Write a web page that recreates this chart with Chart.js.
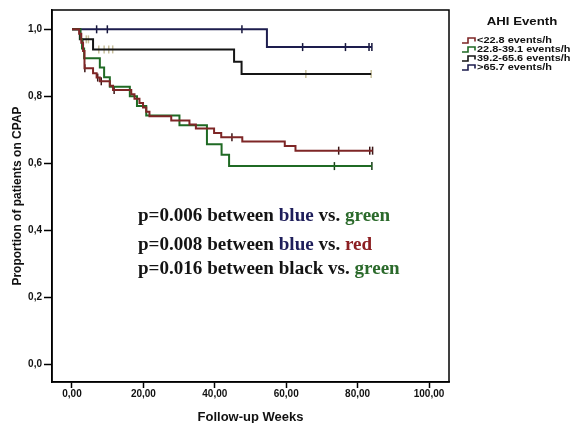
<!DOCTYPE html>
<html><head><meta charset="utf-8">
<script src="https://cdn.jsdelivr.net/npm/chart.js@4/dist/chart.umd.min.js"></script>
<style>html,body{margin:0;padding:0;background:#fff}#wrap{width:580px;height:423px;position:relative}</style>
</head><body><div id="wrap"><canvas id="c" width="580" height="423"></canvas></div>
<script>
const legendTitle = "AHI Eventh";
const groupLabels = ["<22.8 events/h", "22.8-39.1 events/h", "39.2-65.6 events/h", ">65.7 events/h"];

const redWeeks = [0, 2.0, 2.6, 3.1, 3.5, 5.9, 6.9, 7.8, 10.6, 11.5, 16.6, 17.5, 18.9, 19.9, 20.8, 21.7, 27.8, 32.9, 34.7, 39.8, 41.8, 47.7, 59.6, 62.6, 84.2];
const redSurv  = [1, 0.987, 0.96, 0.935, 0.884, 0.869, 0.856, 0.845, 0.832, 0.819, 0.806, 0.793, 0.78, 0.767, 0.754, 0.741, 0.728, 0.716, 0.704, 0.691, 0.678, 0.665, 0.652, 0.638, 0.638];
const redCensor = [3.0, 3.6, 7.2, 8.2, 11.8, 44.8, 74.7, 83.4, 84.2];

const greenWeeks = [0, 2.4, 2.8, 3.4, 7.8, 9.0, 10.6, 16.2, 18.2, 20.8, 30.1, 37.8, 41.9, 44.0, 84.0];
const greenSurv  = [1, 0.971, 0.943, 0.914, 0.886, 0.857, 0.829, 0.8, 0.771, 0.743, 0.714, 0.657, 0.626, 0.592, 0.592];
const greenCensor = [73.5, 84.0];

const blackWeeks = [0, 2.2, 5.9, 45.4, 47.5, 83.8];
const blackSurv  = [1, 0.97, 0.94, 0.903, 0.867, 0.867];
const blackCensor = [4.0, 4.6, 7.5, 9.0, 10.3, 11.4, 65.5, 83.8];

const blueWeeks = [0, 54.6, 84.0];
const blueSurv  = [1, 0.947, 0.947];
const blueCensor = [6.9, 9.9, 47.6, 64.6, 76.6, 83.2, 84.0];

const xTicks = [0, 20, 40, 60, 80, 100];
const yTicks = [0, 0.2, 0.4, 0.6, 0.8, 1.0];
const xTitle = "Follow-up Weeks";
const yTitle = "Proportion of patients on CPAP";

const noteLines = [
  [["p=0.006 between ", "k"], ["blue", "b"], [" vs. ", "k"], ["green", "g"]],
  [["p=0.008 between ", "k"], ["blue", "b"], [" vs. ", "k"], ["red", "r"]],
  [["p=0.016 between ", "k"], ["black", "k"], [" vs. ", "k"], ["green", "g"]]
];
const noteColors = {k: "#141414", b: "#1e1e5a", g: "#2b6a2b", r: "#8c1f22"};

const groups = [
  {label: groupLabels[0], weeks: redWeeks, surv: redSurv, censor: redCensor, color: "#7e2626", cColor: "#3a1414"},
  {label: groupLabels[1], weeks: greenWeeks, surv: greenSurv, censor: greenCensor, color: "#1f6a24", cColor: "#153d15"},
  {label: groupLabels[2], weeks: blackWeeks, surv: blackSurv, censor: blackCensor, color: "#151515", cColor: "#c8c09c"},
  {label: groupLabels[3], weeks: blueWeeks, surv: blueSurv, censor: blueCensor, color: "#1d1d4e", cColor: "#14143a"}
];

function stepAt(weeks, surv, t) {
  let v = surv[0];
  for (let i = 0; i < weeks.length; i++) { if (weeks[i] <= t) v = surv[i]; }
  return v;
}

const datasets = [];
groups.forEach(g => {
  datasets.push({
    label: g.label,
    data: g.weeks.map((w, i) => ({x: w, y: g.surv[i]})),
    borderColor: g.color, borderWidth: 2, stepped: true, pointRadius: 0, fill: false
  });
});
groups.forEach(g => {
  datasets.push({
    label: g.label + " censored",
    data: g.censor.map(t => ({x: t, y: stepAt(g.weeks, g.surv, t)})),
    showLine: false, pointStyle: 'line', rotation: 90, pointRadius: 4, pointBorderWidth: 1.5,
    borderColor: g.cColor, pointBorderColor: g.cColor, backgroundColor: g.cColor
  });
});

const fmt = (v, d) => v.toFixed(d).replace('.', ',');

function stretchedText(ctx, txt, x, y, sx) {
  ctx.save();
  ctx.translate(x, y);
  ctx.scale(sx, 1);
  ctx.fillText(txt, 0, 0);
  ctx.restore();
}

const framePlugin = {
  id: 'frame',
  afterDraw(chart) {
    const {ctx, chartArea: a} = chart;
    ctx.save();
    ctx.strokeStyle = '#000'; ctx.lineWidth = 1.5;
    ctx.strokeRect(a.left, a.top, a.right - a.left, a.bottom - a.top);
    // notes
    ctx.font = 'bold 18px "Liberation Serif", "Times New Roman", serif';
    ctx.textBaseline = 'middle';
    ctx.textAlign = 'left';
    const sx = 1.06;
    const ys = [216, 245, 269];
    noteLines.forEach((line, i) => {
      let x = 138;
      line.forEach(([txt, c]) => {
        ctx.fillStyle = noteColors[c];
        stretchedText(ctx, txt, x, ys[i], sx);
        x += ctx.measureText(txt).width * sx;
      });
    });
    // legend
    ctx.fillStyle = '#111';
    ctx.font = 'bold 11.5px "Liberation Sans", Arial, sans-serif';
    const tw = ctx.measureText(legendTitle).width * 1.15;
    stretchedText(ctx, legendTitle, 522 - tw / 2, 22, 1.15);
    ctx.font = 'bold 9.5px "Liberation Sans", Arial, sans-serif';
    groups.forEach((g, i) => {
      const y = 40.5 + i * 9;
      ctx.strokeStyle = g.color; ctx.lineWidth = 1.6;
      ctx.beginPath();
      ctx.moveTo(462, y + 2.5); ctx.lineTo(468, y + 2.5); ctx.lineTo(468, y - 2.5);
      ctx.lineTo(475, y - 2.5); ctx.lineTo(475, y + 1);
      ctx.stroke();
      ctx.fillStyle = '#111';
      stretchedText(ctx, g.label, 477, y, 1.15);
    });
    ctx.restore();
  }
};

const tickFont = {family: '"Liberation Sans", Arial, sans-serif', size: 10, weight: 'bold'};

new Chart(document.getElementById('c'), {
  type: 'line',
  data: {datasets},
  options: {
    responsive: false, animation: false, devicePixelRatio: 1,
    layout: {padding: {left: 0, right: 131, top: 10, bottom: 0}},
    plugins: {legend: {display: false}, tooltip: {enabled: false}},
    scales: {
      x: {
        type: 'linear', min: -5.6, max: 105.6,
        afterBuildTicks: s => { s.ticks = xTicks.map(v => ({value: v})); },
        afterFit: s => { s.height = 41; },
        ticks: {callback: v => fmt(v, 2), color: '#111', font: tickFont, padding: 0, maxRotation: 0, autoSkip: false},
        grid: {drawOnChartArea: false, tickLength: 6, tickColor: '#000', tickWidth: 1.5},
        border: {color: '#000', width: 1.5},
        title: {display: true, text: xTitle, color: '#111', padding: {top: 0, bottom: -2},
          font: {family: '"Liberation Sans", Arial, sans-serif', size: 13, weight: 'bold'}}
      },
      y: {
        type: 'linear', min: -0.052, max: 1.0576,
        afterBuildTicks: s => { s.ticks = yTicks.map(v => ({value: v})); },
        afterFit: s => { s.width = 52; },
        ticks: {callback: v => fmt(v, 1), color: '#111', font: tickFont, padding: 2, autoSkip: false},
        grid: {drawOnChartArea: false, tickLength: 8, tickColor: '#000', tickWidth: 1.5},
        border: {color: '#000', width: 1.5},
        title: {display: true, text: yTitle, color: '#111', padding: {top: 10, bottom: 0},
          font: {family: '"Liberation Sans", Arial, sans-serif', size: 12, weight: 'bold'}}
      }
    }
  },
  plugins: [framePlugin]
});
</script></body></html>
